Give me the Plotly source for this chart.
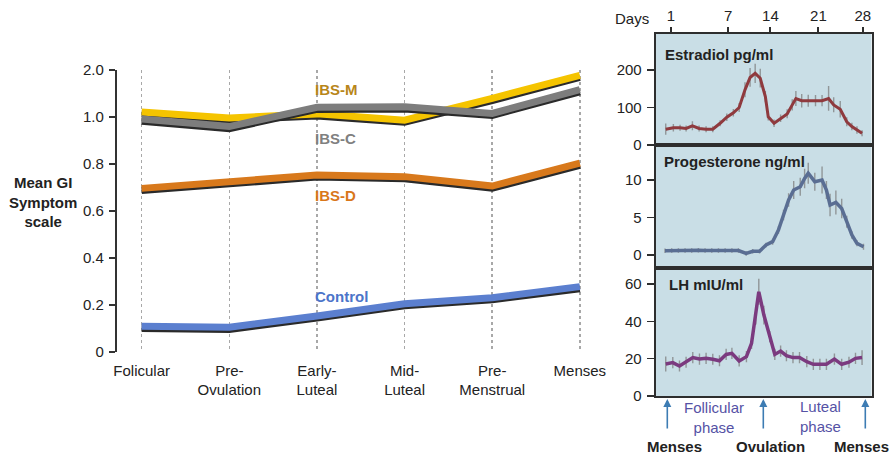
import plotly.graph_objects as go

W, H = 894, 454
FONT = "Liberation Sans, Arial, Helvetica, sans-serif"

# ---------------- Left chart data ----------------
PHASES = ["Folicular", "Pre-<br>Ovulation", "Early-<br>Luteal", "Mid-<br>Luteal",
          "Pre-<br>Menstrual", "Menses"]
IBS_M = [1.02, 0.995, 1.012, 0.985, 1.078, 1.176]
IBS_C = [0.99, 0.958, 1.040, 1.042, 1.014, 1.115]
IBS_D = [0.695, 0.722, 0.752, 0.745, 0.705, 0.802]
CONTROL = [0.108, 0.104, 0.152, 0.204, 0.230, 0.277]
Y_TICK_VALS = [0, 0.2, 0.4, 0.6, 0.8, 1.0, 1.2]
Y_TICK_TEXT = ["0", "0.2", "0.4", "0.6", "0.8", "1.0", "2.0"]

# ---------------- Right panels data ----------------
E2_DAYS = [1.0, 2.05, 2.97, 3.8, 4.67, 5.59, 6.55, 7.47, 8.48, 9.4, 10.3, 11.1, 11.9,
           12.6, 13.3, 14.0, 14.7, 15.1, 15.9, 16.8, 17.7, 18.4, 18.9, 19.7, 20.6,
           21.6, 22.5, 23.4, 24.1, 25.0, 25.9, 26.6, 27.3, 28.0]
E2 = [42, 46, 46, 44, 51, 44, 42, 42, 58, 74, 86, 100, 147, 180, 191, 178, 129, 75,
      58, 71, 83, 107, 124, 118, 118, 118, 118, 124, 107, 95, 62, 49, 40, 31]
E2_ERR = [15, 10, 8, 8, 12, 8, 8, 8, 8, 10, 10, 12, 20, 25, 26, 25, 15, 10, 10, 10,
          12, 15, 20, 18, 16, 15, 15, 33, 20, 22, 12, 10, 10, 8]

P4_DAYS = [0.9, 1.82, 2.74, 3.66, 4.57, 5.49, 6.41, 7.33, 8.25, 9.17, 10.1, 11.0,
           12.06, 12.97, 13.9, 14.8, 15.7, 16.5, 17.2, 17.9, 18.6, 19.5, 20.1, 20.6,
           21.5, 22.5, 23.1, 23.6, 24.4, 25.2, 25.9, 26.6, 27.3, 28.2]
P4 = [0.57, 0.6, 0.6, 0.6, 0.62, 0.65, 0.62, 0.6, 0.6, 0.6, 0.6, 0.6, 0.22, 0.5, 0.5,
      1.33, 1.78, 3.33, 5.33, 7.33, 8.67, 9.1, 10.2, 10.9, 9.78, 10.0, 8.67, 6.67,
      7.02, 6.2, 4.44, 2.67, 1.56, 1.11]
P4_ERR = [0.3, 0.3, 0.3, 0.3, 0.3, 0.3, 0.3, 0.3, 0.3, 0.3, 0.3, 0.3, 0.3, 0.3, 0.3,
          0.3, 0.4, 0.5, 0.7, 0.9, 1.2, 1.2, 1.3, 1.4, 1.2, 1.8, 1.2, 1.5, 1.6, 1.3,
          0.8, 0.5, 0.4, 0.4]

LH_DAYS = [1.0, 1.97, 2.89, 3.8, 4.72, 5.64, 6.55, 7.47, 8.39, 9.31, 10.1, 11.1,
           12.1, 12.8, 13.4, 13.8, 14.5, 15.3, 16.0, 16.8, 17.6, 18.5, 19.4, 20.4,
           21.3, 22.2, 23.1, 24.2, 25.2, 26.2, 27.1, 28.0]
LH = [17.2, 17.9, 16.1, 18.1, 20.6, 19.8, 20.2, 19.7, 18.9, 22.3, 22.9, 18.8, 21.1,
      28.2, 43.4, 55.9, 43.4, 31.8, 22.3, 24.1, 21.6, 20.6, 20.6, 18.4, 17.0, 17.0,
      17.0, 19.8, 17.0, 18.1, 20.2, 20.6]
LH_ERR = [4, 3, 3, 3, 3, 3, 3, 3, 3, 3, 3, 3, 3, 3, 5, 7, 5, 3, 3, 3, 3, 3, 3, 3,
          3, 3, 3, 3, 3, 3, 3, 4]

DAY_TICK_TEXT = ["1", "7", "14", "21", "28"]
DAY_TICK_POS = [1.7, 9.6, 15.4, 22.0, 28.1]

# ---------------- helpers ----------------
def px(x):
    return x / W


def py(y):
    return 1 - y / H


fig = go.Figure()

# Left chart lines with a dark shadow underneath (grey drawn over yellow)
series = [
    ("IBS-M", IBS_M, "#f5c400"),
    ("IBS-C", IBS_C, "#7d7d7d"),
    ("IBS-D", IBS_D, "#d8791c"),
    ("Control", CONTROL, "#5b7fcf"),
]
for name, vals, col in series:
    fig.add_trace(go.Scatter(x=PHASES, y=[v - 0.009 for v in vals], mode="lines",
                             line=dict(color="#2a2a2a", width=7), showlegend=False,
                             hoverinfo="skip", xaxis="x", yaxis="y"))
    fig.add_trace(go.Scatter(x=PHASES, y=vals, mode="lines", name=name,
                             line=dict(color=col, width=7), showlegend=False,
                             xaxis="x", yaxis="y"))

err_style = dict(type="data", color="rgba(125,125,125,0.75)", thickness=1.4, width=0)
fig.add_trace(go.Scatter(x=E2_DAYS, y=E2, mode="lines", line=dict(color="#8f3a3e", width=3),
                         error_y=dict(array=E2_ERR, **err_style), showlegend=False,
                         xaxis="x2", yaxis="y2"))
fig.add_trace(go.Scatter(x=P4_DAYS, y=P4, mode="lines", line=dict(color="#5a6e93", width=3.5),
                         error_y=dict(array=P4_ERR, **err_style), showlegend=False,
                         xaxis="x3", yaxis="y3"))
fig.add_trace(go.Scatter(x=LH_DAYS, y=LH, mode="lines", line=dict(color="#7b3a7f", width=3.5),
                         error_y=dict(array=LH_ERR, **err_style), showlegend=False,
                         xaxis="x4", yaxis="y4"))

tickfont = dict(family=FONT, size=15, color="#222")
BORDER = "#2e2e2e"
X_RIGHT = [-0.38, 29.3]
XDOM_R = [px(655.7), px(871.5)]

fig.update_layout(
    width=W, height=H, autosize=False,
    margin=dict(l=0, r=0, t=0, b=0, pad=0, autoexpand=False),
    paper_bgcolor="white", plot_bgcolor="white",
    font=dict(family=FONT, color="#222"),
    xaxis=dict(domain=[px(117.3), px(600)], type="category", range=[-0.278, 5.23],
               showline=False, ticks="", showgrid=True, gridcolor="#a8a8a8",
               griddash="dot", gridwidth=1.5, tickfont=tickfont, zeroline=False,
               ticklabelstandoff=8, fixedrange=True, automargin=False),
    yaxis=dict(domain=[py(351.7), py(69.7)], range=[0, 1.2], tickvals=Y_TICK_VALS,
               ticktext=Y_TICK_TEXT, showline=True, linecolor="#333", linewidth=2.5,
               ticks="outside", ticklen=6, tickwidth=2, tickcolor="#333",
               showgrid=False, zeroline=False, tickfont=tickfont, ticklabelstandoff=2,
               automargin=False),
    xaxis2=dict(domain=XDOM_R, range=X_RIGHT, anchor="y2", side="top",
                tickvals=DAY_TICK_POS, ticktext=DAY_TICK_TEXT, ticks="outside",
                ticklen=5, tickwidth=2, tickcolor=BORDER, showline=True, mirror=True,
                linecolor=BORDER, linewidth=2, showgrid=False, zeroline=False,
                tickfont=tickfont, ticklabelstandoff=0, automargin=False),
    yaxis2=dict(domain=[py(145), py(34)], range=[0, 296], anchor="x2",
                tickvals=[0, 100, 200], ticks="outside", ticklen=7, tickwidth=1.5,
                tickcolor=BORDER, showline=True, mirror=True, linecolor=BORDER,
                linewidth=2, showgrid=False, zeroline=False, tickfont=tickfont,
                ticklabelstandoff=2, automargin=False),
    xaxis3=dict(domain=XDOM_R, range=X_RIGHT, anchor="y3", showticklabels=False,
                ticks="", showline=True, mirror=True, linecolor=BORDER, linewidth=2,
                showgrid=False, zeroline=False),
    yaxis3=dict(domain=[py(267.7), py(145)], range=[-1.69, 14.67], anchor="x3",
                tickvals=[0, 5, 10], ticks="outside", ticklen=7, tickwidth=1.5,
                tickcolor=BORDER, showline=True, mirror=True, linecolor=BORDER,
                linewidth=2, showgrid=False, zeroline=False, tickfont=tickfont,
                ticklabelstandoff=2, automargin=False),
    xaxis4=dict(domain=XDOM_R, range=X_RIGHT, anchor="y4", showticklabels=False,
                ticks="", showline=True, mirror=True, linecolor=BORDER, linewidth=2,
                showgrid=False, zeroline=False),
    yaxis4=dict(domain=[py(396), py(267.7)], range=[0, 68.8], anchor="x4",
                tickvals=[0, 20, 40, 60], ticks="outside", ticklen=7, tickwidth=1.5,
                tickcolor=BORDER, showline=True, mirror=True, linecolor=BORDER,
                linewidth=2, showgrid=False, zeroline=False, tickfont=tickfont,
                ticklabelstandoff=2, automargin=False),
)

# Panel backgrounds
for i in (2, 3, 4):
    fig.add_shape(type="rect", xref=f"x{i} domain", yref=f"y{i} domain",
                  x0=0, x1=1, y0=0, y1=1, fillcolor="#c9dee6", line=dict(width=0),
                  layer="below")

ann = []
bold = dict(family=FONT, size=15, color="#222")


def text_ann(x, y, text, font, xanchor="center"):
    return dict(xref="paper", yref="paper", x=px(x), y=py(y), xanchor=xanchor,
                yanchor="middle", showarrow=False, text=text, font=font, align="center")


# y-axis title
ann.append(text_ann(43, 201.7, "<b>Mean GI<br>Symptom<br>scale</b>", bold))
# series labels
labels = [("IBS-M", 89.3, "#b8861a"), ("IBS-C", 138.3, "#808080"),
          ("IBS-D", 195.7, "#d9771a"), ("Control", 296.7, "#4c74c9")]
for txt, yy, col in labels:
    ann.append(text_ann(313, yy, f"<b>{txt}</b>",
                        dict(family=FONT, size=15, color=col), xanchor="left"))
# right panel labels
ann.append(text_ann(631.7, 18.5, "Days", tickfont))
for txt, xx, yy in [("Estradiol pg/ml", 663.3, 54), ("Progesterone ng/ml", 661.7, 161.7),
                    ("LH mIU/ml", 667.3, 284)]:
    ann.append(text_ann(xx, yy, f"<b>{txt}</b>", bold, xanchor="left"))
# arrows
for xx in (667.3, 763.3, 865.3):
    ann.append(dict(xref="paper", yref="paper", x=px(xx), y=py(399), ax=0, ay=31,
                    text="", showarrow=True, arrowhead=2, arrowsize=1, arrowwidth=1.6,
                    arrowcolor="#3d7cb3"))
phase_font = dict(family=FONT, size=15, color="#5552a5")
ann.append(text_ann(714, 417.5, "Follicular<br>phase", phase_font))
ann.append(text_ann(820.7, 416, "Luteal<br>phase", phase_font))
for txt, xx in [("Menses", 674), ("Ovulation", 770.7), ("Menses", 861)]:
    ann.append(text_ann(xx, 446.7, f"<b>{txt}</b>", bold))
fig.update_layout(annotations=ann)

fig.write_html("out.html", config={"displayModeBar": False, "staticPlot": True},
               post_script="document.body.style.margin='0';"
                           "document.body.style.overflow='hidden';")
